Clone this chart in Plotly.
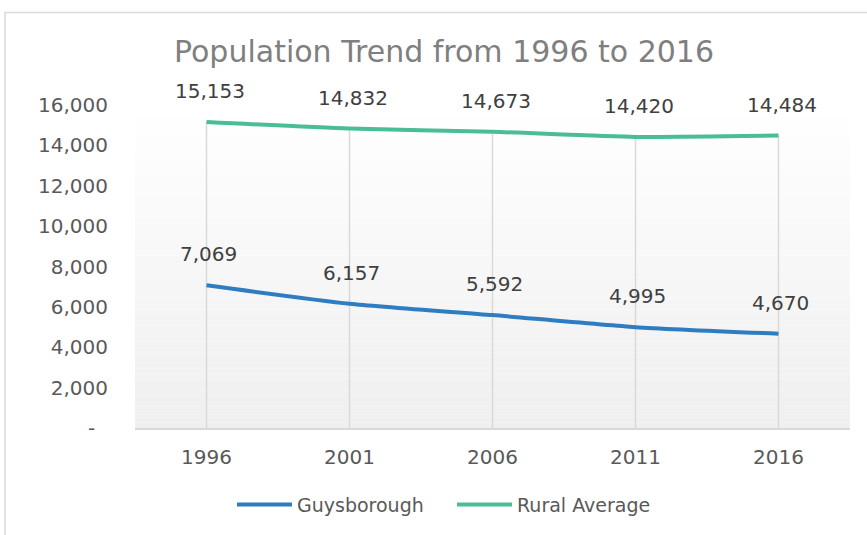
import plotly.graph_objects as go

years = ["1996", "2001", "2006", "2011", "2016"]
guysborough = [7069, 6157, 5592, 4995, 4670]
rural_average = [15153, 14832, 14673, 14420, 14484]
y_tick_values = [0, 2000, 4000, 6000, 8000, 10000, 12000, 14000, 16000]
y_tick_labels = ["-  ", "2,000", "4,000", "6,000", "8,000", "10,000", "12,000", "14,000", "16,000"]

FONT = "DejaVu Sans"
BLUE = "#2E7DC2"
GREEN = "#49BD93"

W, H = 867, 535
L, R, T, B = 135, 17, 105, 105
pw, ph = W - L - R, H - T - B

fig = go.Figure()

# drop lines from highest point to axis
dx, dy = [], []
for i, yr in enumerate(years):
    dx += [yr, yr, None]
    dy += [max(guysborough[i], rural_average[i]), 0, None]
fig.add_trace(go.Scatter(x=dx, y=dy, mode="lines", line=dict(color="#d9d9d9", width=1.5),
                         showlegend=False, hoverinfo="skip"))

fig.add_trace(go.Scatter(x=years, y=guysborough, name="Guysborough", mode="lines",
                         line=dict(color=BLUE, width=4, shape="spline", smoothing=0.6)))
fig.add_trace(go.Scatter(x=years, y=rural_average, name="Rural Average", mode="lines",
                         line=dict(color=GREEN, width=4, shape="spline", smoothing=0.6)))

# data labels (category axis: annotation x uses category index)
for i, yr in enumerate(years):
    fig.add_annotation(x=i, y=rural_average[i], text=f"{rural_average[i]:,}", showarrow=False,
                       yshift=31, xshift=3,
                       font=dict(family=FONT, size=20, color="#404040"))
    fig.add_annotation(x=i, y=guysborough[i], text=f"{guysborough[i]:,}", showarrow=False,
                       yshift=31, xshift=2,
                       font=dict(family=FONT, size=20, color="#404040"))

# gradient plot background
shapes = []
n = 60
for k in range(n):
    t = (k + 0.5) / n  # 0 bottom -> 1 top
    c = int(round(239 + (255 - 239) * t))
    shapes.append(dict(type="rect", xref="x domain", yref="y domain", x0=0, x1=1,
                       y0=k / n, y1=(k + 1) / n, fillcolor=f"rgb({c},{c},{c})",
                       line=dict(width=0), layer="below"))
# chart border
shapes.append(dict(type="rect", xref="paper", yref="paper",
                   x0=(5 - L) / pw, x1=(W + 5 - L) / pw,
                   y0=-(H + 5 - (T + ph)) / ph, y1=1 + (T - 12) / ph,
                   line=dict(color="#d9d9d9", width=1.5), fillcolor="rgba(0,0,0,0)", layer="below"))

fig.update_layout(
    width=W, height=H,
    margin=dict(l=L, r=R, t=T, b=B),
    paper_bgcolor="white", plot_bgcolor="white",
    shapes=shapes,
    title=dict(text="Population Trend from 1996 to 2016", x=(444 - L) / pw, xref="paper",
               xanchor="center", y=1 - 51 / H, yanchor="middle", yref="container",
               font=dict(family=FONT, size=30, color="#7f7f7f")),
    showlegend=True,
    legend=dict(orientation="h", x=(452 - L) / pw, xanchor="center", xref="paper",
                y=-(507 - (T + ph)) / ph, yanchor="middle",
                font=dict(family=FONT, size=19, color="#595959"), itemwidth=55,
                entrywidth=150),
    xaxis=dict(type="category", range=[-0.5, 4.5], showgrid=False, showline=True,
               linecolor="#d9d9d9", linewidth=2, ticks="", ticklabelstandoff=10,
               tickfont=dict(family=FONT, size=20, color="#595959"), zeroline=False),
    yaxis=dict(range=[0, 16000], tickvals=y_tick_values, ticktext=y_tick_labels,
               showgrid=False, showline=False, zeroline=False, ticks="",
               ticklabelstandoff=26,
               tickfont=dict(family=FONT, size=20, color="#595959")),
)

fig.write_html("out.html", config={"displayModeBar": False},
               post_script="document.body.style.margin='0';document.body.style.overflow='hidden';")
